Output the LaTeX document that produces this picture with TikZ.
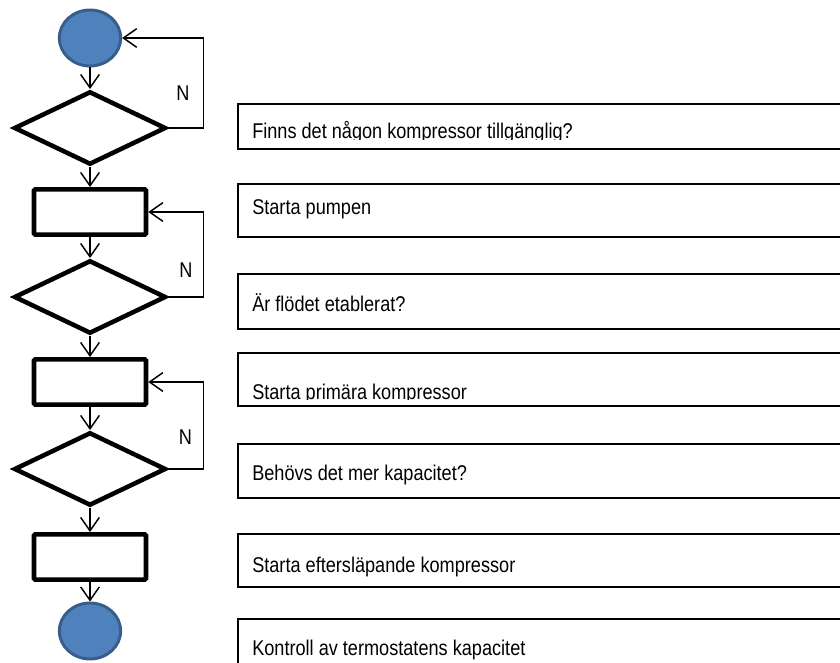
\documentclass[tikz,border=0pt]{standalone}
\usepackage{fontspec}
\setmainfont{Liberation Sans}[FakeStretch=0.85]
\usetikzlibrary{shapes.geometric,arrows.meta}
\definecolor{termfill}{HTML}{4F81BD}
\definecolor{termline}{HTML}{385D8A}

\begin{document}
\begin{tikzpicture}[
  x=0.75pt, y=-0.75pt,
  font=\fontsize{16}{19}\selectfont,
  terminal/.style={ellipse,draw=termline,fill=termfill,line width=2.2pt,minimum width=46pt,minimum height=42pt},
  decision/.style={diamond,draw,line width=3.4pt,inner sep=0pt,minimum width=114pt,minimum height=55pt},
  process/.style={rectangle,draw,line width=3.4pt,rounded corners=1pt,minimum width=84pt,minimum height=34pt},
  infobox/.style={rectangle,draw,line width=1.5pt,anchor=north west,minimum width=480pt},
  infotext/.style={anchor=base west,inner sep=0pt},
  flow/.style={line width=1.1pt,-{Straight Barb[length=10pt,width=14pt]}}
]
  \path[use as bounding box] (0,0) rectangle (840,663);
  \clip (0,0) rectangle (840,663);

  % flow chart
  \node[terminal] (start) at (90,38) {};
  \node[decision] (q1) at (90,128) {};
  \node[process] (p1) at (90,212) {};
  \node[decision] (q2) at (90,297) {};
  \node[process] (p2) at (90,382) {};
  \node[decision] (q3) at (90,469) {};
  \node[process] (p3) at (90,557) {};
  \node[terminal] (stop) at (90,631) {};

  \draw[flow] (start) -- (q1);
  \draw[flow] (q1) -- (p1);
  \draw[flow] (p1) -- (q2);
  \draw[flow] (q2) -- (p2);
  \draw[flow] (p2) -- (q3);
  \draw[flow] (q3) -- (p3);
  \draw[flow] (p3) -- (stop);

  \draw[flow] (q1.east) -- ++(35,0) |- (start.east);
  \draw[flow] (q2.east) -- ++(35,0) |- (p1.east);
  \draw[flow] (q3.east) -- ++(35,0) |- (p2.east);
  \node (n1) at (183,93) {N};
  \node (n2) at (186,270) {N};
  \node (n3) at (185.5,437.5) {N};

  % description boxes
  \node[infobox,minimum height=33.75pt] (b1) at (237,103) {};
  \node[infobox,minimum height=39.75pt] (b2) at (237,183) {};
  \node[infobox,minimum height=41.25pt] (b3) at (237,273) {};
  \node[infobox,minimum height=39.75pt] (b4) at (237,352) {};
  \node[infobox,minimum height=40.5pt] (b5) at (237,443) {};
  \node[infobox,minimum height=39.75pt] (b6) at (237,533) {};
  \node[infobox,minimum height=60pt] (b7) at (237,618) {};

  \begin{scope}
    \clip (237,103) rectangle (840,139.5);
    \node[infotext] (t1) at (252,139) {Finns det någon kompressor tillgänglig?};
  \end{scope}
  \node[infotext] (t2) at (252,215) {Starta pumpen};
  \node[infotext] (t3) at (252,312) {Är flödet etablerat?};
  \begin{scope}
    \clip (237,352) rectangle (840,399.5);
    \node[infotext] (t4) at (252,399) {Starta primära kompressor};
  \end{scope}
  \node[infotext] (t5) at (252,480) {Behövs det mer kapacitet?};
  \node[infotext] (t6) at (252,572) {Starta eftersläpande kompressor};
  \node[infotext] (t7) at (252,655) {Kontroll av termostatens kapacitet};
\end{tikzpicture}
\end{document}
